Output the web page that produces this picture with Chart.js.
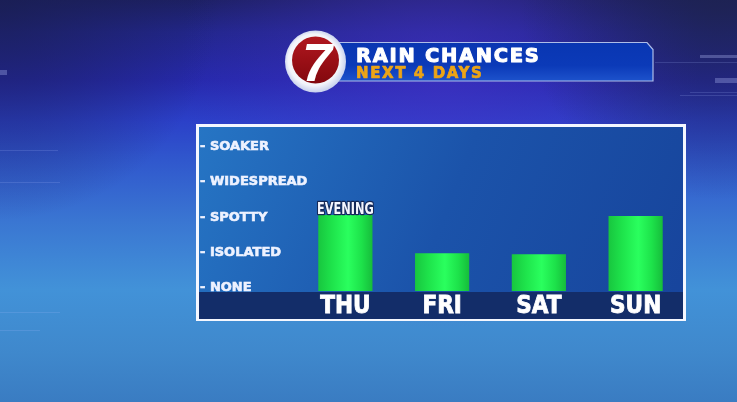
<!DOCTYPE html>
<html>
<head>
<meta charset="utf-8">
<script src="https://cdn.jsdelivr.net/npm/chart.js@4.4.0/dist/chart.umd.min.js"></script>
<style>
  html, body { margin: 0; padding: 0; background: #2a3fb8; overflow: hidden; }
  #wrap { width: 737px; height: 402px; }
</style>
</head>
<body>
<div id="wrap"><canvas id="rainChart" width="737" height="402"></canvas></div>
<script>
// chart values
const days = ['THU', 'FRI', 'SAT', 'SUN'];
const rainLevel = [2.15, 1.07, 1.04, 2.12];
const barNotes = ['EVENING', '', '', ''];
const levelLabels = ['NONE', 'ISOLATED', 'SPOTTY', 'WIDESPREAD', 'SOAKER'];
const titleText = 'RAIN CHANCES';
const subtitleText = 'NEXT 4 DAYS';

const condensed = '"DejaVu Sans Condensed", "Liberation Sans Narrow", "Liberation Sans", sans-serif';

// studio background, graphic panel and the title banner
const backdrop = {
  id: 'backdrop',
  afterLayout(chart) {
    // let the long level names run past the axis box like the original graphic
    chart.scales.y.right = chart.chartArea.left + 30;
  },
  beforeDraw(chart) {
    const ctx = chart.ctx;
    const w = chart.width, h = chart.height;
    ctx.save();

    let g = ctx.createLinearGradient(0, 0, 0, h);
    g.addColorStop(0, '#1d2064');
    g.addColorStop(0.08, '#22268c');
    g.addColorStop(0.2, '#2629ac');
    g.addColorStop(0.3, '#2b40c8');
    g.addColorStop(0.4, '#3058cd');
    g.addColorStop(0.55, '#3a76d2');
    g.addColorStop(0.72, '#4292d8');
    g.addColorStop(0.88, '#3f88cc');
    g.addColorStop(1, '#3a7cc2');
    ctx.fillStyle = g;
    ctx.fillRect(0, 0, w, h);

    // purple glow behind the title
    g = ctx.createRadialGradient(440, 70, 10, 440, 70, 260);
    g.addColorStop(0, 'rgba(70,50,200,0.55)');
    g.addColorStop(1, 'rgba(70,50,200,0)');
    ctx.fillStyle = g;
    ctx.fillRect(0, 0, w, h);

    // darker upper corners
    g = ctx.createRadialGradient(720, 0, 10, 720, 0, 200);
    g.addColorStop(0, 'rgba(30,35,80,0.8)');
    g.addColorStop(1, 'rgba(30,35,80,0)');
    ctx.fillStyle = g;
    ctx.fillRect(0, 0, w, h);
    g = ctx.createRadialGradient(0, 0, 10, 0, 0, 220);
    g.addColorStop(0, 'rgba(25,30,80,0.7)');
    g.addColorStop(1, 'rgba(25,30,80,0)');
    ctx.fillStyle = g;
    ctx.fillRect(0, 0, w, h);

    // faint hud lines
    ctx.strokeStyle = 'rgba(170,190,255,0.18)';
    ctx.lineWidth = 1;
    [[0, 150, 58], [0, 182, 60], [655, 62, 737], [690, 92, 737], [680, 95, 737], [0, 312, 60], [0, 330, 40]].forEach(([x0, y, x1]) => {
      ctx.beginPath(); ctx.moveTo(x0, y + 0.5); ctx.lineTo(x1, y + 0.5); ctx.stroke();
    });
    ctx.fillStyle = 'rgba(190,200,255,0.3)';
    ctx.fillRect(0, 70, 7, 5);
    ctx.fillRect(700, 55, 37, 3);
    ctx.fillRect(715, 78, 22, 5);

    // panel
    const xs = chart.scales.x, ys = chart.scales.y, area = chart.chartArea;
    const pl = ys.left - 1, pr = area.right - 1, pt = area.top - 5, pb = xs.bottom;
    ctx.fillStyle = '#f4f7ff';
    ctx.fillRect(pl - 3, pt - 3, pr - pl + 6, pb - pt + 5);
    g = ctx.createLinearGradient(pl, pt, pr, pb);
    g.addColorStop(0, '#2675c4');
    g.addColorStop(0.5, '#1b53aa');
    g.addColorStop(1, '#17449c');
    ctx.fillStyle = g;
    ctx.fillRect(pl, pt, pr - pl, pb - pt);
    ctx.fillStyle = '#132d69';
    ctx.fillRect(pl, area.bottom + 1, pr - pl, pb - area.bottom - 1);

    // title banner
    const bl = 338, br = 653, bt = 42.5, bb = 81;
    ctx.beginPath();
    ctx.moveTo(bl, bt);
    ctx.lineTo(br - 6, bt);
    ctx.lineTo(br, bt + 7);
    ctx.lineTo(br, bb);
    ctx.lineTo(bl, bb);
    ctx.closePath();
    g = ctx.createLinearGradient(0, bt, 0, bb);
    g.addColorStop(0, '#0936b2');
    g.addColorStop(0.6, '#0b3ab8');
    g.addColorStop(1, '#1d52cc');
    ctx.fillStyle = g;
    ctx.fill();
    ctx.strokeStyle = '#aebde8';
    ctx.lineWidth = 1.2;
    ctx.stroke();

    // station logo
    ctx.beginPath();
    ctx.ellipse(315.5, 61.5, 30.5, 31, 0, 0, Math.PI * 2);
    g = ctx.createRadialGradient(310, 55, 5, 315, 61, 31);
    g.addColorStop(0, '#ffffff');
    g.addColorStop(0.8, '#f2f4fa');
    g.addColorStop(1, '#c9d2ee');
    ctx.fillStyle = g;
    ctx.fill();
    ctx.beginPath();
    ctx.arc(315.5, 60, 23.5, 0, Math.PI * 2);
    g = ctx.createLinearGradient(0, 37, 0, 84);
    g.addColorStop(0, '#b01820');
    g.addColorStop(0.5, '#9a0f16');
    g.addColorStop(1, '#82080e');
    ctx.fillStyle = g;
    ctx.fill();
    ctx.fillStyle = '#ffffff';
    ctx.font = 'italic bold 54px "Liberation Sans", Arial, sans-serif';
    ctx.textAlign = 'center';
    ctx.textBaseline = 'alphabetic';
    ctx.fillText('7', 317, 81);

    // title texts
    ctx.textAlign = 'left';
    ctx.letterSpacing = '1.7px';
    ctx.lineJoin = 'round';
    ctx.fillStyle = '#ffffff';
    ctx.strokeStyle = '#ffffff';
    ctx.lineWidth = 1;
    ctx.font = 'bold 19.5px "DejaVu Sans", sans-serif';
    ctx.strokeText(titleText, 356, 61.5);
    ctx.fillText(titleText, 356, 61.5);
    ctx.letterSpacing = '1.6px';
    ctx.fillStyle = '#eca416';
    ctx.strokeStyle = '#eca416';
    ctx.lineWidth = 0.7;
    ctx.font = 'bold 15px "DejaVu Sans", sans-serif';
    ctx.strokeText(subtitleText, 356, 77.5);
    ctx.fillText(subtitleText, 356, 77.5);
    ctx.letterSpacing = '0px';
    ctx.restore();
  }
};

// small note written on top of a bar
const noteLabels = {
  id: 'noteLabels',
  afterDatasetsDraw(chart) {
    const ctx = chart.ctx;
    const meta = chart.getDatasetMeta(0);
    ctx.font = 'bold 15px ' + condensed;
    ctx.textAlign = 'center';
    ctx.textBaseline = 'alphabetic';
    ctx.lineJoin = 'round';
    meta.data.forEach((bar, i) => {
      if (!barNotes[i]) return;
      ctx.save();
      ctx.translate(bar.x, bar.y - 1);
      ctx.scale(0.84, 1);
      ctx.lineWidth = 2.5;
      ctx.strokeStyle = 'rgba(20,30,70,0.85)';
      ctx.strokeText(barNotes[i], 0, 0);
      ctx.fillStyle = '#f4f6ff';
      ctx.fillText(barNotes[i], 0, 0);
      ctx.restore();
    });
  }
};

function barFill(c) {
  const chart = c.chart;
  const xs = chart.scales.x;
  if (!xs || !chart.chartArea) return '#1fe04c';
  const cx = xs.getPixelForValue(c.dataIndex);
  const half = xs.width / days.length * 0.56 / 2;
  const g = chart.ctx.createLinearGradient(cx - half, 0, cx + half, 0);
  g.addColorStop(0, '#18c63f');
  g.addColorStop(0.25, '#1ee34b');
  g.addColorStop(0.55, '#2aff5e');
  g.addColorStop(0.8, '#1de24a');
  g.addColorStop(1, '#16bd3b');
  return g;
}

const rainChart = new Chart(document.getElementById('rainChart'), {
  type: 'bar',
  data: {
    labels: days,
    datasets: [{
      data: rainLevel,
      backgroundColor: barFill,
      borderWidth: 0,
      categoryPercentage: 1,
      barPercentage: 0.56
    }]
  },
  options: {
    responsive: false,
    animation: false,
    layout: { padding: { left: 200, top: 132, right: 53, bottom: 83 } },
    scales: {
      x: {
        grid: { display: false },
        border: { display: false },
        ticks: {
          color: '#ffffff',
          padding: -5,
          textStrokeColor: '#ffffff',
          textStrokeWidth: 0.8,
          font: { family: condensed, weight: 'bold', size: 24, lineHeight: 1.1 }
        },
        afterFit(scale) { scale.height = 28; }
      },
      y: {
        min: 0,
        max: 4.5,
        grid: { display: false },
        border: { display: false },
        ticks: {
          stepSize: 1,
          includeBounds: false,
          crossAlign: 'far',
          labelOffset: -3,
          color: '#eef2ff',
          textStrokeColor: '#eef2ff',
          textStrokeWidth: 0.6,
          font: { family: '"DejaVu Sans", sans-serif', weight: 'bold', size: 13 },
          callback: (v) => (Number.isInteger(v) && levelLabels[v] ? '- ' + levelLabels[v] : '')
        },
        afterFit(scale) { scale.width = 97; }
      }
    },
    plugins: {
      legend: { display: false },
      tooltip: { enabled: false },
      title: { display: false }
    }
  },
  plugins: [backdrop, noteLabels]
});
</script>
</body>
</html>
